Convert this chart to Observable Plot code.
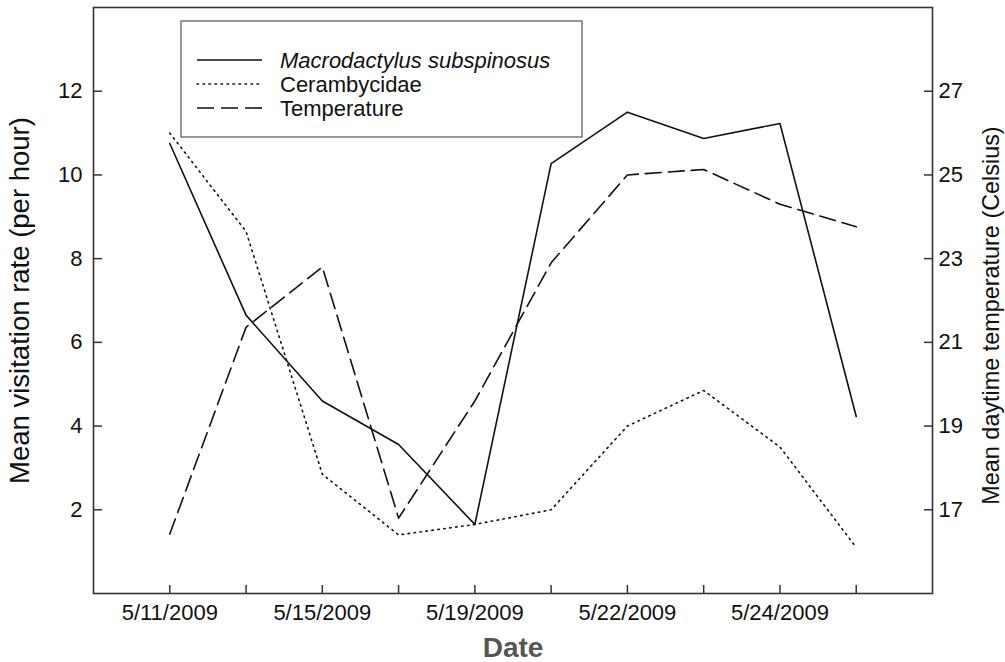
<!DOCTYPE html>
<html><head><meta charset="utf-8">
<script src="https://cdn.jsdelivr.net/npm/d3@7"></script>
<script src="https://cdn.jsdelivr.net/npm/@observablehq/plot@0.6"></script>
<style>
html,body{margin:0;padding:0;background:#fff;}
#chart{position:relative;width:1005px;height:662px;}
</style></head><body><div id="chart"></div>
<script>
// Sampling occasions (plotted at equal spacing, as in the original)
const sampleIndex = [0,1,2,3,4,5,6,7,8,9];
const tickLabels = ["5/11/2009","","5/15/2009","","5/19/2009","","5/22/2009","","5/24/2009",""];
// Series
const seriesNames = ["Macrodactylus subspinosus","Cerambycidae","Temperature"];
const macrodactylus = [10.75, 6.65, 4.6, 3.56, 1.65, 10.27, 11.5, 10.87, 11.23, 4.23];
const cerambycidae  = [11.0, 8.65, 2.85, 1.4, 1.65, 2.0, 4.0, 4.85, 3.5, 1.1];
const temperature   = [16.42, 21.36, 22.8, 16.8, 19.6, 22.9, 25.0, 25.13, 24.3, 23.76];
// Axes
const leftDomain = [0, 14];
const rightDomain = [15, 29];
const leftTicks = [2,4,6,8,10,12];
const rightTicks = [17,19,21,23,25,27];
const leftTitle = "Mean visitation rate (per hour)";
const rightTitle = "Mean daytime temperature (Celsius)";
const xTitle = "Date";

// map temperature onto the left scale
const toLeft = t => leftDomain[0] + (t - rightDomain[0]) * (leftDomain[1]-leftDomain[0])/(rightDomain[1]-rightDomain[0]);
const toRight = v => rightDomain[0] + (v - leftDomain[0]) * (rightDomain[1]-rightDomain[0])/(leftDomain[1]-leftDomain[0]);

const rows = sampleIndex.map(i => ({i, macro: macrodactylus[i], ceramb: cerambycidae[i], temp: temperature[i]}));
const dashes = [null, "1.5,4.5", "16,7"];
const ink = "#111";
const font = "'Liberation Sans', Arial, sans-serif";

const plot = Plot.plot({
  width: 1005, height: 662,
  marginLeft: 93, marginRight: 73, marginTop: 7, marginBottom: 69,
  style: {fontFamily: font, fontSize: "22px", color: ink, background: "#fff", overflow: "visible"},
  x: {domain: [sampleIndex[0]-1, sampleIndex[sampleIndex.length-1]+1]},
  y: {domain: leftDomain},
  marks: [
    Plot.frame({stroke: "#333", strokeWidth: 1.6}),
    Plot.axisX({ticks: sampleIndex, tickSize: -8, tickPadding: 19, tickFormat: i => tickLabels[i], label: null, stroke: "#333", strokeWidth: 1.5, fill: ink}),
    Plot.axisY({anchor: "left", ticks: leftTicks, tickSize: -9, tickPadding: 20, tickFormat: d => String(d), label: null, stroke: "#333", strokeWidth: 1.5, fill: ink}),
    Plot.axisY({anchor: "right", ticks: rightTicks.map(toLeft), tickSize: -9, tickPadding: 15, tickFormat: d => String(Math.round(toRight(d))), label: null, stroke: "#333", strokeWidth: 1.5, fill: ink}),
    Plot.lineY(rows, {x: "i", y: "macro", stroke: ink, strokeWidth: 1.6}),
    Plot.lineY(rows, {x: "i", y: "ceramb", stroke: ink, strokeWidth: 1.6, strokeDasharray: dashes[1], strokeLinecap: "round"}),
    Plot.lineY(rows, {x: "i", y: d => toLeft(d.temp), stroke: ink, strokeWidth: 1.6, strokeDasharray: dashes[2]}),
    Plot.text([leftTitle], {frameAnchor: "left", textAnchor: "middle", dx: -73, rotate: -90, fontSize: 27.5, fill: ink}),
    Plot.text([rightTitle], {frameAnchor: "right", textAnchor: "middle", dx: 59, dy: 15, rotate: -90, fontSize: 23.4, fill: ink}),
    Plot.text([xTitle], {frameAnchor: "bottom", textAnchor: "middle", dy: 63, fontSize: 28, fontWeight: "bold", fill: "#555"})
  ]
});
document.getElementById("chart").appendChild(plot);

// Legend box inside the plot
const svg = d3.select(plot);
const lg = svg.append("g").attr("font-family", font).attr("font-size", 22).attr("text-anchor", "start");
lg.append("rect").attr("x", 181).attr("y", 21).attr("width", 401).attr("height", 116)
  .attr("fill", "#fff").attr("stroke", "#777").attr("stroke-width", 1.5);
seriesNames.forEach((name, k) => {
  const y = 60 + 24*k;
  lg.append("line").attr("x1", 197).attr("x2", 262).attr("y1", y).attr("y2", y)
    .attr("stroke", ink).attr("stroke-width", 1.6)
    .attr("stroke-dasharray", k === 2 ? "17,7" : dashes[k]).attr("stroke-linecap", k === 1 ? "round" : null);
  lg.append("text").attr("x", 280).attr("y", y).attr("dy", "0.35em").attr("fill", ink)
    .attr("text-anchor", "start")
    .attr("font-style", k === 0 ? "italic" : null).text(name);
});
</script>
</body></html>
